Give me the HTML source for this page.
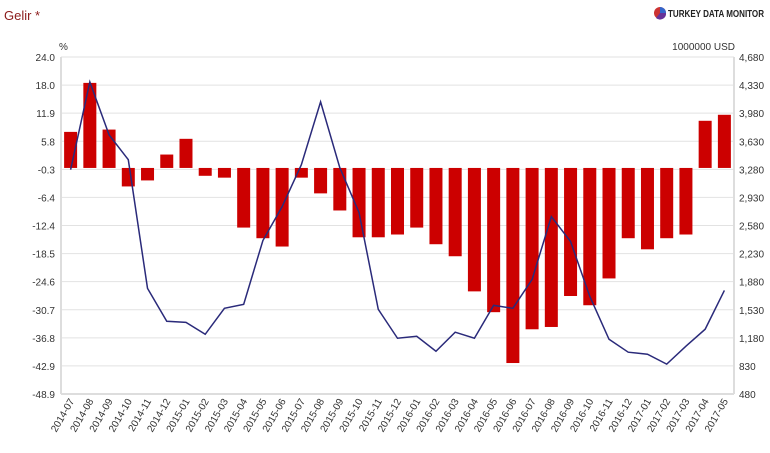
<!DOCTYPE html>
<html><head><meta charset="utf-8"><style>
body{margin:0;background:#fff;width:770px;height:448px;overflow:hidden;font-family:"Liberation Sans",sans-serif}
</style></head><body>
<svg width="770" height="448" id="c" style="font-family:'Liberation Sans',sans-serif">
<text x="4" y="20" font-size="13" fill="#8b1a1a">Gelir *</text>
<g>
<circle cx="660" cy="13" r="6" fill="#c33"/><path d="M660 13 L660 7 A6 6 0 0 1 666 13Z" fill="#36c"/><path d="M660 13 L666 13 A6 6 0 0 1 656 18Z" fill="#639"/>
<text x="668" y="17" font-size="10" font-weight="bold" fill="#222" textLength="96" lengthAdjust="spacingAndGlyphs">TURKEY DATA MONITOR</text></g>
<text x="59" y="50" font-size="10" fill="#333">%</text>
<text x="735" y="50" font-size="10" fill="#333" text-anchor="end">1000000 USD</text>
<g id="grid"></g><g id="bars"></g><g id="line"></g><g id="ax"></g>
</svg>
<script>
const categories=["2014-07","2014-08","2014-09","2014-10","2014-11","2014-12","2015-01","2015-02","2015-03","2015-04","2015-05","2015-06","2015-07","2015-08","2015-09","2015-10","2015-11","2015-12","2016-01","2016-02","2016-03","2016-04","2016-05","2016-06","2016-07","2016-08","2016-09","2016-10","2016-11","2016-12","2017-01","2017-02","2017-03","2017-04","2017-05"];
const barValues=[7.8,18.4,8.3,-4.0,-2.7,2.9,6.3,-1.7,-2.1,-12.9,-15.2,-17.0,-2.1,-5.5,-9.2,-15.0,-15.0,-14.4,-12.9,-16.5,-19.1,-26.7,-31.2,-42.2,-34.9,-34.4,-27.7,-29.7,-23.9,-15.2,-17.6,-15.2,-14.4,10.2,11.5];
const lineValues=[3276,4369,3710,3400,1796,1386,1373,1224,1548,1597,2393,2815,3338,4121,3300,2741,1535,1175,1200,1013,1250,1175,1585,1548,1908,2691,2380,1697,1162,1001,976,852,1076,1287,1771];
const leftTicks=["24.0","18.0","11.9","5.8","-0.3","-6.4","-12.4","-18.5","-24.6","-30.7","-36.8","-42.9","-48.9"];
const rightTicks=["4,680","4,330","3,980","3,630","3,280","2,930","2,580","2,230","1,880","1,530","1,180","830","480"];
const X0=61,X1=734,Y0=57,Y1=394,n=categories.length,bw=(X1-X0)/n;
const yL=v=>Y0+(24.0-v)/(24.0+48.9)*(Y1-Y0);
const yR=v=>Y0+(4680-v)/(4680-480)*(Y1-Y0);
const xC=i=>X0+bw*(i+0.5);
const NS="http://www.w3.org/2000/svg";
function mk(p,t,a){const e=document.createElementNS(NS,t);for(const k in a)e.setAttribute(k,a[k]);document.getElementById(p).appendChild(e);return e;}
leftTicks.forEach((t,i)=>{const y=Y0+i*(Y1-Y0)/(leftTicks.length-1);
const g=mk('grid','line',{x1:X0,x2:X1,y1:y,y2:y,stroke:'#e2e2e2','stroke-width':1});


const l=mk('ax','text',{x:55,y:y+4,'font-size':10,fill:'#333','text-anchor':'end'});l.textContent=t;


const r=mk('ax','text',{x:739,y:y+4,'font-size':10,fill:'#333'});r.textContent=rightTicks[i];

});
mk('grid','line',{x1:X0,x2:X0,y1:Y0,y2:Y1,stroke:'#ddd','stroke-width':2});
mk('grid','line',{x1:X1,x2:X1,y1:Y0,y2:Y1,stroke:'#ddd','stroke-width':2});
mk('grid','line',{x1:X0,x2:X1,y1:Y1,y2:Y1,stroke:'#ddd','stroke-width':2});
const z=yL(0);
barValues.forEach((v,i)=>{const y=yL(v);
const b=mk('bars','rect',{x:xC(i)-6.5,y:Math.min(y,z),width:13,height:Math.abs(y-z),fill:'#cc0000'});

});
const p=mk('line','polyline',{points:lineValues.map((v,i)=>xC(i)+','+yR(v)).join(' '),fill:'none',stroke:'#2a2a7a','stroke-width':1.5});


categories.forEach((c,i)=>{const x=xC(i)+4,y=Y1+7;
const t=mk('ax','text',{x:x,y:y,'font-size':10,fill:'#333','text-anchor':'end',transform:`rotate(-60 ${x} ${y})`});t.textContent=c;

});
</script>
</body></html>
